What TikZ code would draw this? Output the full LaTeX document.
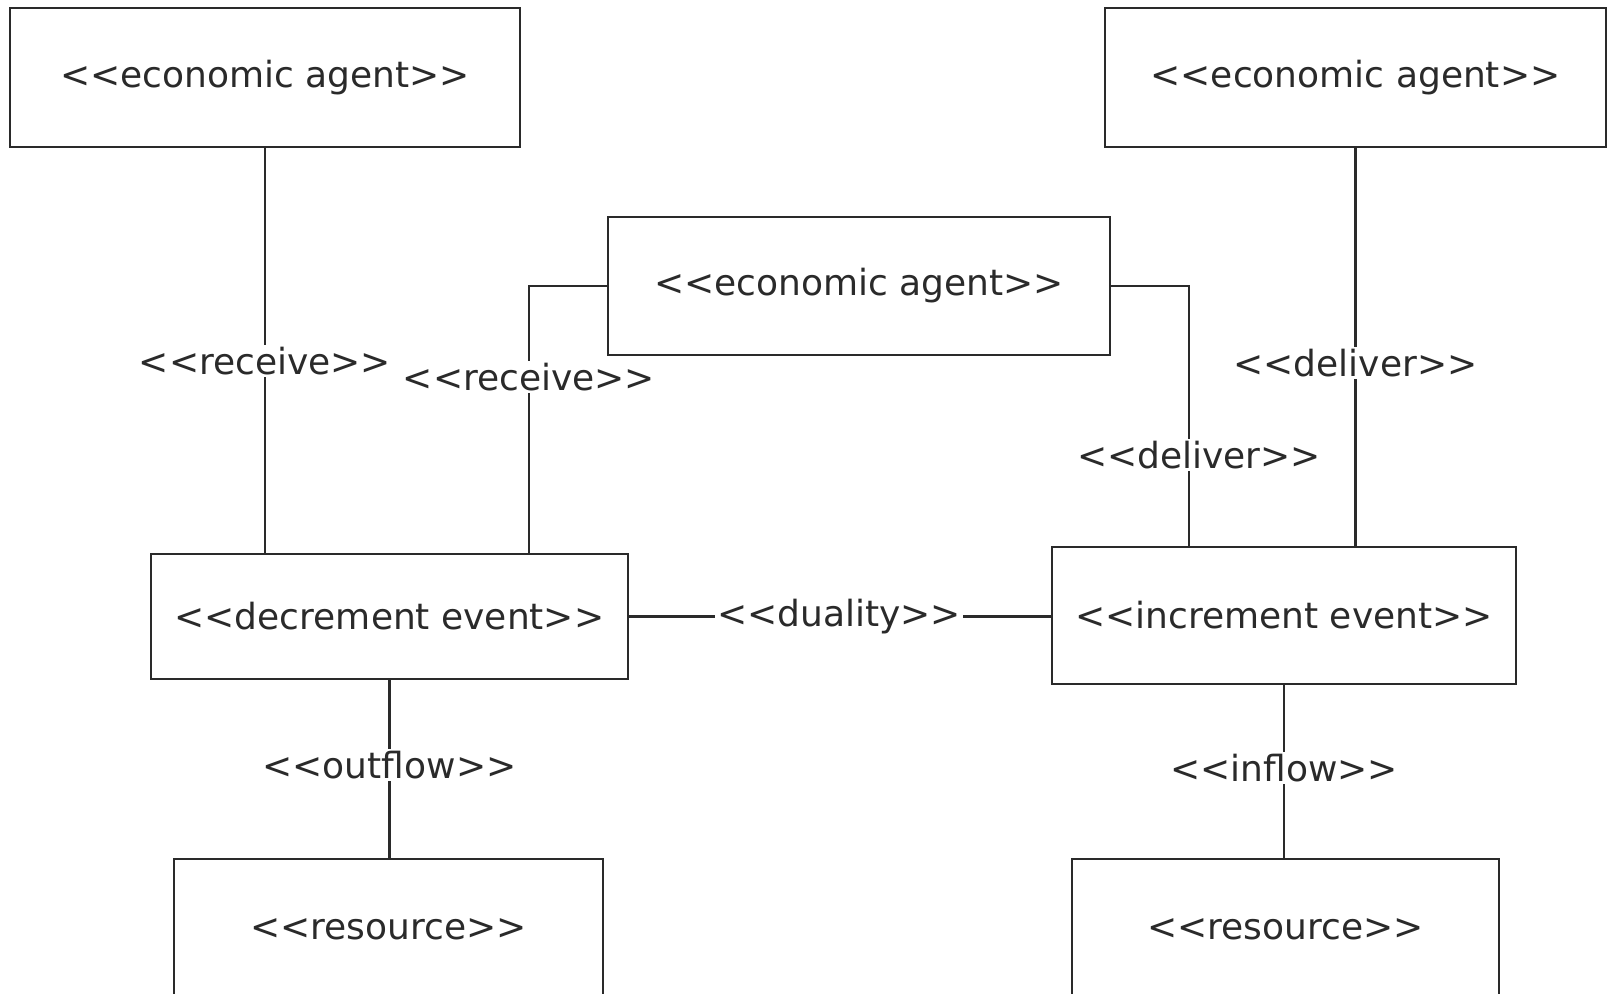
\documentclass[tikz,border=0pt]{standalone}
\usepackage{fontspec}
% plain family: no TeX ligatures, so "<<" stays two characters
\newfontfamily\diafont{DejaVu Sans}
\usetikzlibrary{calc}
\definecolor{ink}{HTML}{2A2A2A}
\tikzset{
  umlbox/.style={draw=ink, line width=1.4pt, fill=white, rectangle, inner sep=0pt,
    text=ink, font=\diafont\fontsize{18}{21}\selectfont},
  conn/.style={draw=ink, line width=1.3pt},
  lbl/.style={fill=white, inner sep=1pt, text=ink, font=\diafont\fontsize{18}{21}\selectfont}
}
\begin{document}
\begin{tikzpicture}[x=0.5pt,y=-0.5pt]
  \useasboundingbox (0,0) rectangle (1608,993);
  \clip (0,0) rectangle (1608,993);
  \fill[white] (0,0) rectangle (1608,993);

  % agents
  \node[umlbox, minimum width=255pt, minimum height=69.5pt] (agentL) at (265,77.5) {<<economic agent>>};
  \node[umlbox, minimum width=250.5pt, minimum height=69.5pt] (agentR) at (1355.5,77.5) {<<economic agent>>};
  \node[umlbox, minimum width=251pt, minimum height=69pt] (agentM) at (859,286) {<<economic agent>>};

  % events
  \node[umlbox, minimum width=238.5pt, minimum height=62.5pt] (dec) at (389.5,616.5) {<<decrement event>>};
  \node[umlbox, minimum width=232pt, minimum height=68.5pt] (inc) at (1284,615.5) {<<increment event>>};

  % resources (run past the lower edge)
  \node[umlbox, minimum width=214.5pt, minimum height=70pt] (resL) at (388.5,929) {<<resource>>};
  \node[umlbox, minimum width=213.5pt, minimum height=70pt] (resR) at (1285.5,929) {<<resource>>};

  % agent-event relations
  \draw[conn] (agentL.south) -- (agentL.south |- dec.north)
    node[lbl, pos=0.526] {<<receive>>};
  \draw[conn] (agentR.south) -- (agentR.south |- inc.north)
    node[lbl, pos=0.54] {<<deliver>>};
  \draw[conn] (agentM.west) -| ($(dec.north)+(139.5,0)$)
    node[lbl, pos=0.671] {<<receive>>};
  \draw[conn] (agentM.east) -| ($(inc.north)+(-95,0)$)
    node[lbl, pos=0.826, xshift=5pt] {<<deliver>>};

  % duality
  \draw[conn] (dec.east) -- (dec.east -| inc.west)
    node[lbl, pos=0.498] {<<duality>>};

  % resource flows
  \draw[conn] (dec.south) -- (dec.south |- resL.north)
    node[lbl, pos=0.478] {<<outflow>>};
  \draw[conn] (inc.south) -- (inc.south |- resR.north)
    node[lbl, pos=0.48] {<<inflow>>};
\end{tikzpicture}
\end{document}
